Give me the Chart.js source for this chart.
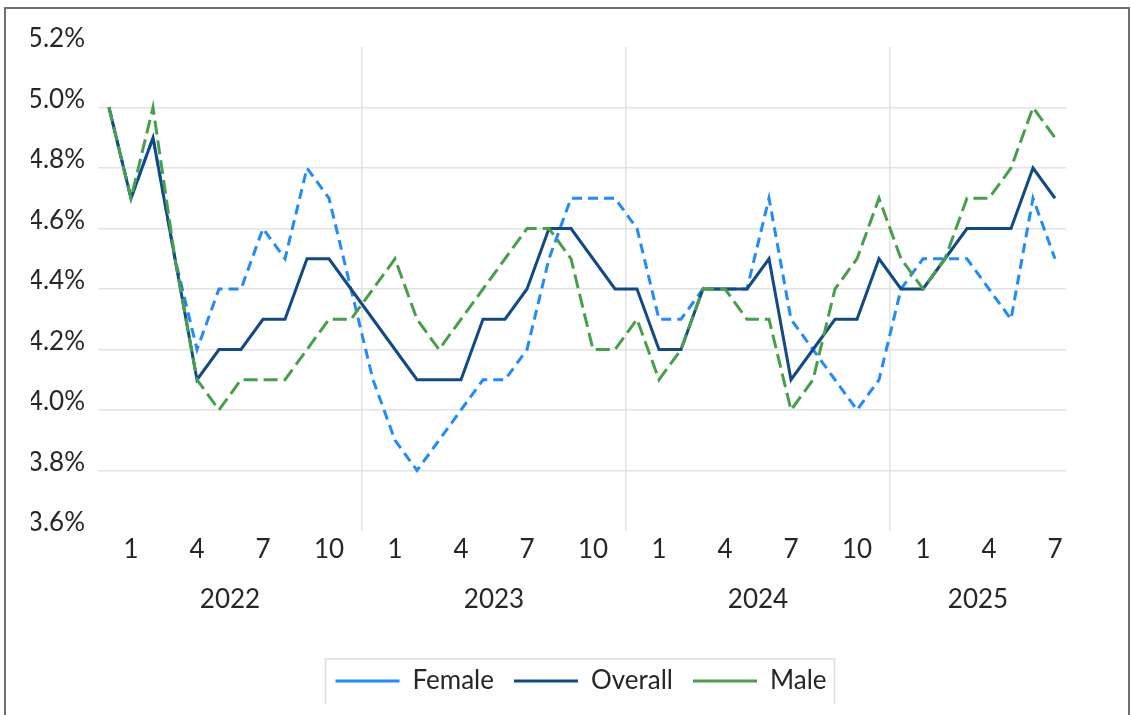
<!DOCTYPE html>
<html>
<head>
<meta charset="utf-8">
<script src="https://cdn.jsdelivr.net/npm/chart.js@4"></script>
<style>
  html, body { margin: 0; padding: 0; background: #fff; overflow: hidden; }
  #frame { position: absolute; left: 4px; top: 7px; width: 1122px; height: 800px; border: 2px solid #707070; }
  #wrap { position: absolute; left: 0; top: 0; width: 1131px; height: 704px; }
</style>
</head>
<body>
<div id="frame"></div>
<div id="wrap"><canvas id="rateChart"></canvas></div>
<script>
// years on the axis and how many months each one has in the data
const years = ['2022', '2023', '2024', '2025'];
const monthsInYear = [12, 12, 12, 8];
// month tick text as it appears under each year's slots
const monthTicks = ['', '1', '', '', '4', '', '', '7', '', '', '10', ''];

const female = [5.0, 4.7, 4.9, 4.5, 4.2, 4.4, 4.4, 4.6, 4.5, 4.8, 4.7, 4.4,
                4.1, 3.9, 3.8, 3.9, 4.0, 4.1, 4.1, 4.2, 4.5, 4.7, 4.7, 4.7,
                4.6, 4.3, 4.3, 4.4, 4.4, 4.4, 4.7, 4.3, 4.2, 4.1, 4.0, 4.1,
                4.4, 4.5, 4.5, 4.5, 4.4, 4.3, 4.7, 4.5];
const overall = [5.0, 4.7, 4.9, 4.5, 4.1, 4.2, 4.2, 4.3, 4.3, 4.5, 4.5, 4.4,
                 4.3, 4.2, 4.1, 4.1, 4.1, 4.3, 4.3, 4.4, 4.6, 4.6, 4.5, 4.4,
                 4.4, 4.2, 4.2, 4.4, 4.4, 4.4, 4.5, 4.1, 4.2, 4.3, 4.3, 4.5,
                 4.4, 4.4, 4.5, 4.6, 4.6, 4.6, 4.8, 4.7];
const male = [5.0, 4.7, 5.0, 4.5, 4.1, 4.0, 4.1, 4.1, 4.1, 4.2, 4.3, 4.3,
              4.4, 4.5, 4.3, 4.2, 4.3, 4.4, 4.5, 4.6, 4.6, 4.5, 4.2, 4.2,
              4.3, 4.1, 4.2, 4.4, 4.4, 4.3, 4.3, 4.0, 4.1, 4.4, 4.5, 4.7,
              4.5, 4.4, 4.5, 4.7, 4.7, 4.8, 5.0, 4.9];

const yMin = 3.6;
const yMax = 5.2;
const yStep = 0.2;

// category labels like "2022-1"
const labels = [];
years.forEach((y, i) => {
  for (let m = 1; m <= monthsInYear[i]; m++) labels.push(y + '-' + m);
});

const textColor = '#262626';
const gridColor = '#e2e2e2';
const fontFamily = 'Lato, "Open Sans", sans-serif';
const fontSize = 26;

// year names under the month ticks
const yearLabels = {
  id: 'yearLabels',
  afterDraw(chart) {
    const x = chart.scales.x;
    const ctx = chart.ctx;
    const half = (x.getPixelForValue(1) - x.getPixelForValue(0)) / 2;
    ctx.save();
    ctx.fillStyle = textColor;
    ctx.font = fontSize + 'px ' + fontFamily;
    ctx.textAlign = 'center';
    ctx.textBaseline = 'middle';
    let start = 0;
    years.forEach((y, i) => {
      const end = start + monthsInYear[i] - 1;
      const left = x.getPixelForValue(start) - half;
      const right = x.getPixelForValue(end) + half;
      ctx.fillText(y, (left + right) / 2, chart.chartArea.bottom + 69);
      start = end + 1;
    });
    ctx.restore();
  }
};

// thin box round the legend
const legendFrame = {
  id: 'legendFrame',
  afterDraw(chart) {
    const boxes = chart.legend.legendHitBoxes;
    if (!boxes || !boxes.length) return;
    const last = boxes[boxes.length - 1];
    const left = boxes[0].left - 10;
    const right = last.left + last.width + 8;
    const top = boxes[0].top - 9;
    const bottom = boxes[0].top + boxes[0].height + 20;
    const ctx = chart.ctx;
    ctx.save();
    ctx.strokeStyle = '#dcdcdc';
    ctx.lineWidth = 1.5;
    ctx.strokeRect(left, top, right - left, bottom - top);
    ctx.restore();
  }
};

const ctx = document.getElementById('rateChart');
new Chart(ctx, {
  type: 'line',
  data: {
    labels: labels,
    datasets: [
      {
        label: 'Female',
        data: female,
        borderColor: '#1e8cff',
        borderWidth: 3,
        borderDash: [10, 6],
        pointRadius: 0,
        tension: 0,
        order: 3
      },
      {
        label: 'Overall',
        data: overall,
        borderColor: '#114a86',
        borderWidth: 3,
        pointRadius: 0,
        tension: 0,
        order: 2
      },
      {
        label: 'Male',
        data: male,
        borderColor: '#46a049',
        borderWidth: 3,
        borderDash: [14, 6],
        pointRadius: 0,
        tension: 0,
        order: 1
      }
    ]
  },
  options: {
    responsive: true,
    maintainAspectRatio: false,
    animation: false,
    devicePixelRatio: 1,
    layout: { padding: { left: 31, right: 0, top: 47, bottom: 0 } },
    scales: {
      x: {
        offset: true,
        border: { display: false },
        grid: {
          offset: true,
          drawTicks: false,
          lineWidth: 1.5,
          color: c => (c.index > 0 && c.index % 12 === 0) ? gridColor : 'transparent'
        },
        ticks: {
          autoSkip: false,
          maxRotation: 0,
          padding: 3,
          color: textColor,
          font: { family: fontFamily, size: fontSize },
          callback: (value, index) => monthTicks[index % 12]
        },
        afterFit(s) { s.height = 117; }
      },
      y: {
        min: yMin,
        max: yMax,
        border: { display: false },
        grid: {
          drawTicks: false,
          lineWidth: 1.5,
          color: c => (c.tick.value <= yMin + 0.01 || c.tick.value >= yMax - 0.01) ? 'transparent' : gridColor
        },
        ticks: {
          stepSize: yStep,
          padding: 13,
          labelOffset: -8,
          color: textColor,
          font: { family: fontFamily, size: fontSize },
          callback: v => v.toFixed(1) + '%'
        },
        afterFit(s) { s.width = 67; }
      },
      yRight: {
        position: 'right',
        border: { display: false },
        grid: { display: false },
        ticks: { display: false },
        afterFit(s) { s.width = 65; }
      }
    },
    plugins: {
      legend: {
        position: 'bottom',
        labels: {
          usePointStyle: true,
          pointStyle: 'line',
          pointStyleWidth: 64,
          padding: 20,
          color: textColor,
          font: { family: fontFamily, size: fontSize },
          sort: (a, b) => a.datasetIndex - b.datasetIndex
        }
      },
      tooltip: { enabled: false }
    }
  },
  plugins: [yearLabels, legendFrame]
});
</script>
</body>
</html>
